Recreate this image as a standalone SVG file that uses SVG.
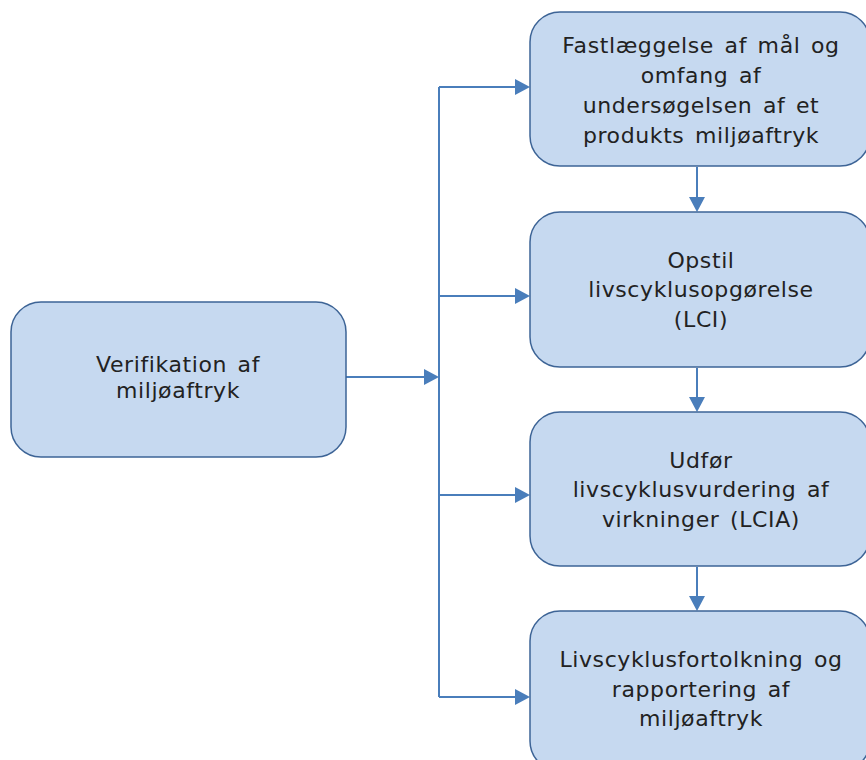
<svg xmlns="http://www.w3.org/2000/svg" width="866" height="760" viewBox="0 0 866 760">
<style>
.box{fill:#c6d9f0;stroke:#3d6496;stroke-width:1.5}
.t{font-family:"DejaVu Sans","Verdana",sans-serif;font-size:22px;fill:#222;text-anchor:middle;word-spacing:3px;letter-spacing:0.6px}
.c{stroke:#4a7ebb;stroke-width:2;fill:none}
.h{fill:#4a7ebb}
</style>
<rect width="866" height="760" fill="#ffffff"/>
<g id="connectors">
<path class="c" d="M439,87 L439,697"/>
<path class="c" d="M346,377 L424,377"/>
<path class="h" d="M424,369 L439,377 L424,385 z"/>
<path class="c" d="M439,87 L515,87"/>
<path class="h" d="M515,79 L530,87 L515,95 z"/>
<path class="c" d="M439,296 L515,296"/>
<path class="h" d="M515,288 L530,296 L515,304 z"/>
<path class="c" d="M439,495 L515,495"/>
<path class="h" d="M515,487 L530,495 L515,503 z"/>
<path class="c" d="M439,697 L515,697"/>
<path class="h" d="M515,689 L530,697 L515,705 z"/>
<path class="c" d="M697,167 L697,197"/>
<path class="h" d="M689,197 L697,212 L705,197 z"/>
<path class="c" d="M697,368 L697,397"/>
<path class="h" d="M689,397 L697,412 L705,397 z"/>
<path class="c" d="M697,567 L697,596"/>
<path class="h" d="M689,596 L697,611 L705,596 z"/>
</g>
<g id="n0">
<rect class="box" x="11" y="302" width="335" height="155" rx="30"/>
<text class="t" x="178" y="372">Verifikation af</text>
<text class="t" x="178" y="398">miljøaftryk</text>
</g>
<g id="n1">
<rect class="box" x="530" y="12" width="340" height="154" rx="30"/>
<text class="t" x="701" y="53">Fastlæggelse af mål og</text>
<text class="t" x="701" y="83">omfang af</text>
<text class="t" x="701" y="113">undersøgelsen af et</text>
<text class="t" x="701" y="143">produkts miljøaftryk</text>
</g>
<g id="n2">
<rect class="box" x="530" y="212" width="340" height="155" rx="30"/>
<text class="t" x="701" y="268">Opstil</text>
<text class="t" x="701" y="297">livscyklusopgørelse</text>
<text class="t" x="701" y="327">(LCI)</text>
</g>
<g id="n3">
<rect class="box" x="530" y="412" width="340" height="154" rx="30"/>
<text class="t" x="701" y="468">Udfør</text>
<text class="t" x="701" y="497">livscyklusvurdering af</text>
<text class="t" x="701" y="527">virkninger (LCIA)</text>
</g>
<g id="n4">
<rect class="box" x="530" y="611" width="340" height="160" rx="30"/>
<text class="t" x="701" y="667">Livscyklusfortolkning og</text>
<text class="t" x="701" y="697">rapportering af</text>
<text class="t" x="701" y="726">miljøaftryk</text>
</g>
</svg>
